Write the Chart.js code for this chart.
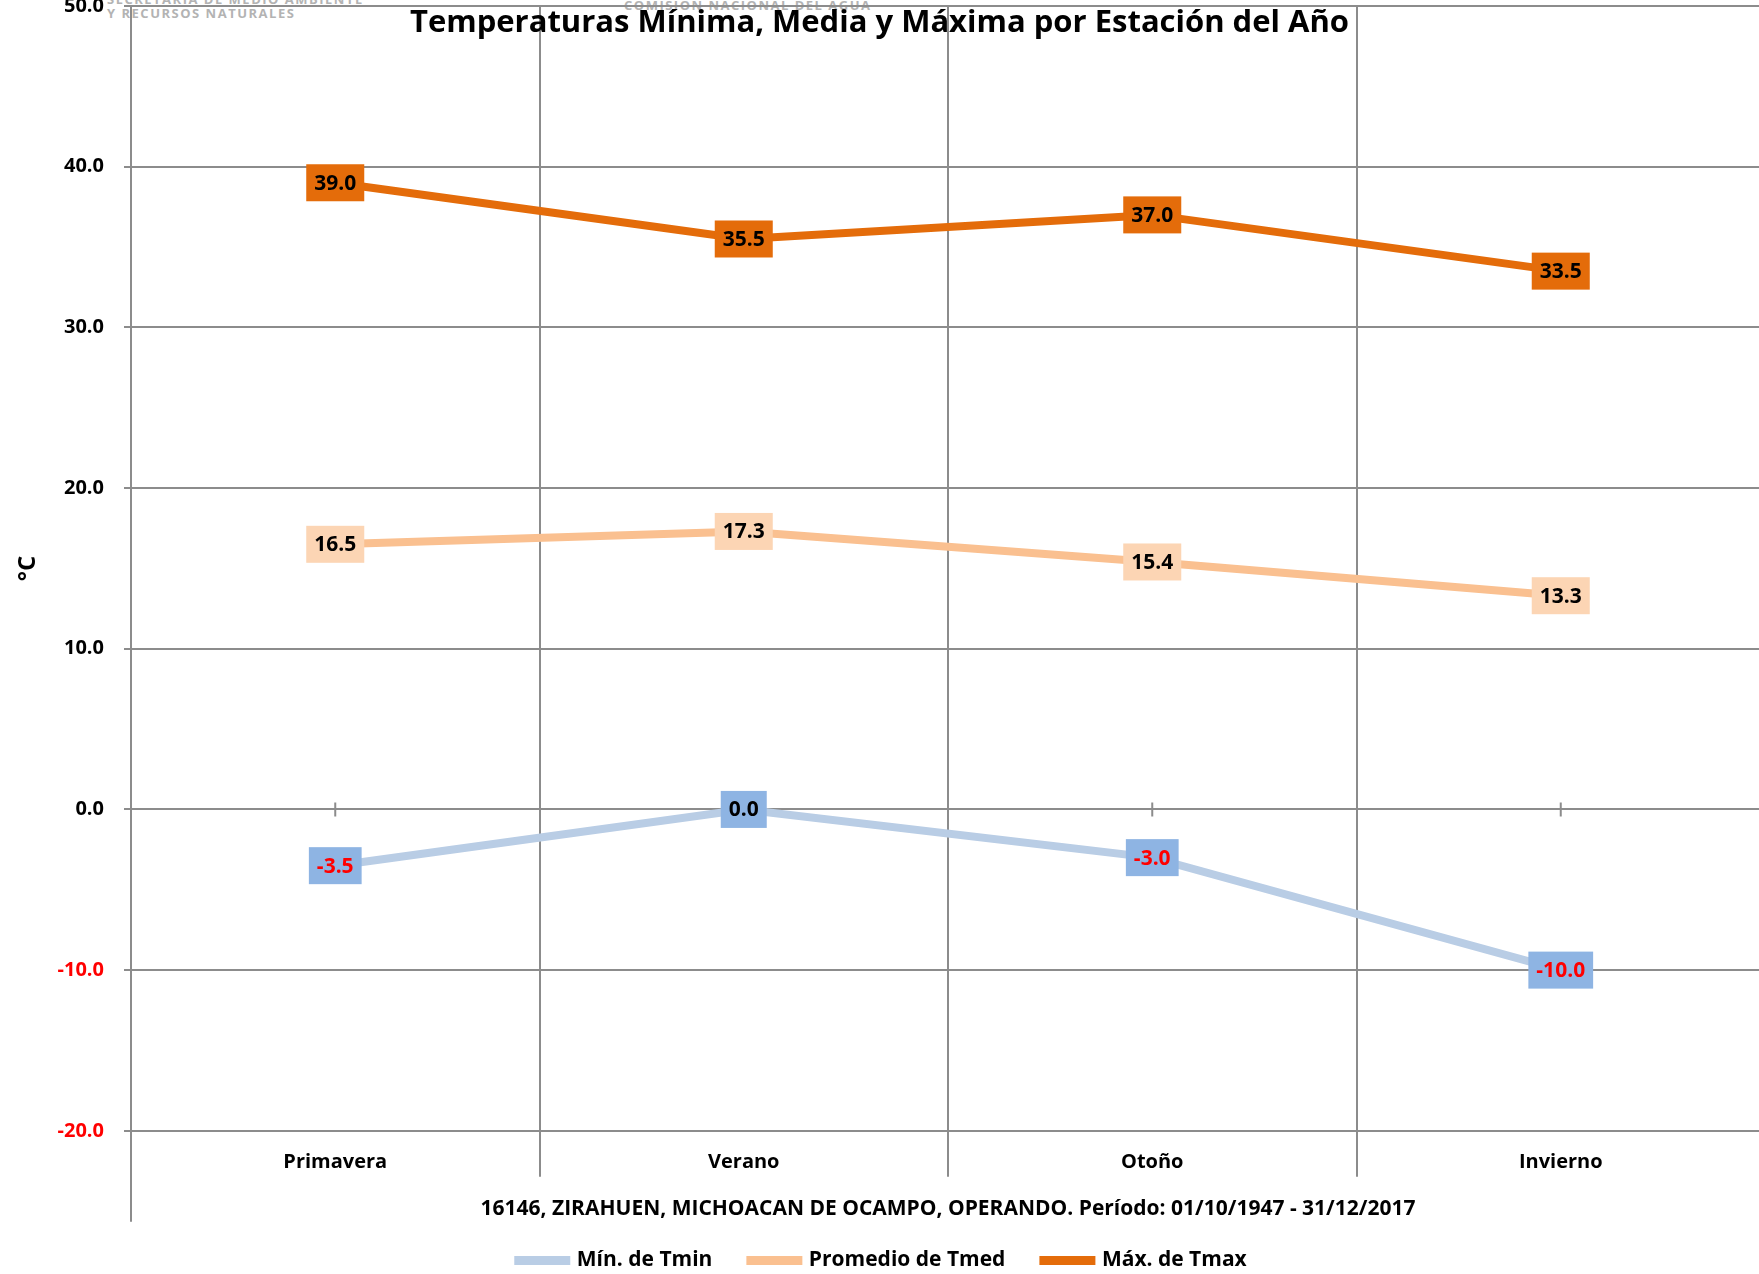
<!DOCTYPE html>
<html>
<head>
<meta charset="utf-8">
<script src="https://cdn.jsdelivr.net/npm/chart.js@4"></script>
<style>
html, body { margin: 0; padding: 0; background: #fff; overflow: hidden; width: 1759px; height: 1274px; position: relative; }
#wrap { position: absolute; left: 0; top: -26px; width: 1765px; height: 1309px; }
.logo { position: absolute; color: #b3b3b3; font-family: "Open Sans", sans-serif; font-weight: bold; font-size: 13px; letter-spacing: 1.5px; line-height: 14px; white-space: nowrap; }
#title { position: absolute; top: -1px; left: 0; width: 1759px; text-align: center; font-family: "Open Sans", sans-serif; font-weight: bold; font-size: 31px; color: #000; white-space: nowrap; }
</style>
</head>
<body>
<div class="logo" style="left:107px; top:-8px;">SECRETARÍA DE MEDIO AMBIENTE<br>Y RECURSOS NATURALES</div>
<div class="logo" style="left:624px; top:-2px;">COMISIÓN NACIONAL DEL AGUA</div>
<div id="wrap"><canvas id="tempChart"></canvas></div>
<div id="title">Temperaturas Mínima, Media y Máxima por Estación del Año</div>
<script>
const seasons = ['Primavera', 'Verano', 'Otoño', 'Invierno'];
const tmin = [-3.5, 0.0, -3.0, -10.0];
const tmed = [16.5, 17.3, 15.4, 13.3];
const tmax = [39.0, 35.5, 37.0, 33.5];
const seriesNames = ['Mín. de Tmin', 'Promedio de Tmed', 'Máx. de Tmax'];
const xTitle = '16146, ZIRAHUEN, MICHOACAN DE OCAMPO, OPERANDO. Período: 01/10/1947 - 31/12/2017';

const FONT = '"Open Sans", sans-serif';
const GRID = '#8c8c8c';

// value boxes drawn on each point
const labelBoxes = {
    id: 'labelBoxes',
    afterDatasetsDraw(chart) {
        const ctx = chart.ctx;
        ctx.save();
        ctx.font = 'bold 21px ' + FONT;
        ctx.textAlign = 'center';
        ctx.textBaseline = 'middle';
        chart.data.datasets.forEach((ds, i) => {
            const meta = chart.getDatasetMeta(i);
            meta.data.forEach((pt, j) => {
                const v = ds.data[j];
                const txt = v.toFixed(1);
                const w = ctx.measureText(txt).width + 16;
                const h = 37;
                ctx.fillStyle = ds.boxColor;
                ctx.fillRect(pt.x - w / 2, pt.y - h / 2, w, h);
                ctx.fillStyle = v < 0 ? '#ff0000' : '#000000';
                ctx.fillText(txt, pt.x, pt.y + 1);
            });
        });
        ctx.restore();
    }
};

// small ticks on the zero line and the long left axis line
const axisExtras = {
    id: 'axisExtras',
    beforeDatasetsDraw(chart) {
        const ctx = chart.ctx;
        const x = chart.scales.x, y = chart.scales.y;
        const y0 = y.getPixelForValue(0);
        ctx.save();
        ctx.strokeStyle = GRID;
        ctx.lineWidth = 2;
        ctx.beginPath();
        seasons.forEach((s, i) => {
            const px = x.getPixelForValue(i);
            ctx.moveTo(px, y0 - 7);
            ctx.lineTo(px, y0 + 7);
        });
        ctx.moveTo(chart.chartArea.left, chart.chartArea.bottom);
        ctx.lineTo(chart.chartArea.left, chart.chartArea.bottom + 91);
        ctx.stroke();
        ctx.restore();
    }
};

new Chart(document.getElementById('tempChart').getContext('2d'), {
    type: 'line',
    data: {
        labels: seasons,
        datasets: [
            { label: seriesNames[0], data: tmin, borderColor: '#b9cde5', backgroundColor: '#b9cde5', boxColor: '#8eb4e3', borderWidth: 8 },
            { label: seriesNames[1], data: tmed, borderColor: '#fac090', backgroundColor: '#fac090', boxColor: '#fcd5b4', borderWidth: 8 },
            { label: seriesNames[2], data: tmax, borderColor: '#e46c0a', backgroundColor: '#e46c0a', boxColor: '#e46c0a', borderWidth: 8 }
        ]
    },
    options: {
        responsive: true,
        maintainAspectRatio: false,
        animation: false,
        elements: { point: { radius: 0 }, line: { tension: 0, borderCapStyle: 'round' } },
        layout: { padding: { top: 5, left: 0, right: 0, bottom: 2 } },
        plugins: {
            legend: {
                position: 'bottom',
                labels: {
                    font: { family: FONT, weight: 'bold', size: 21 },
                    color: '#000',
                    boxWidth: 48,
                    boxHeight: 1,
                    padding: 38
                }
            },
            tooltip: { enabled: false }
        },
        scales: {
            x: {
                offset: true,
                grid: { offset: true, color: GRID, lineWidth: 2, tickLength: 46, tickColor: GRID },
                border: { color: GRID, width: 2 },
                ticks: { font: { family: FONT, weight: 'bold', size: 20 }, color: '#000', padding: -27 },
                title: {
                    display: true,
                    text: xTitle,
                    font: { family: FONT, weight: 'bold', size: 21 },
                    color: '#000',
                    padding: { top: 50, bottom: -10 }
                }
            },
            y: {
                min: -20,
                max: 50,
                grid: { color: GRID, lineWidth: 2, tickLength: 7, tickColor: GRID },
                border: { color: GRID, width: 2 },
                ticks: {
                    stepSize: 10,
                    font: { family: FONT, weight: 'bold', size: 20 },
                    color: ctx => ctx.tick && ctx.tick.value < 0 ? '#ff0000' : '#000000',
                    padding: 20,
                    callback: v => v.toFixed(1)
                },
                title: {
                    display: true,
                    text: '°C',
                    font: { family: FONT, weight: 'bold', size: 24 },
                    color: '#000',
                    padding: { top: 14, bottom: 0 }
                },
                afterFit: s => { s.width = 131; }
            }
        }
    },
    plugins: [labelBoxes, axisExtras]
});
</script>
</body>
</html>
